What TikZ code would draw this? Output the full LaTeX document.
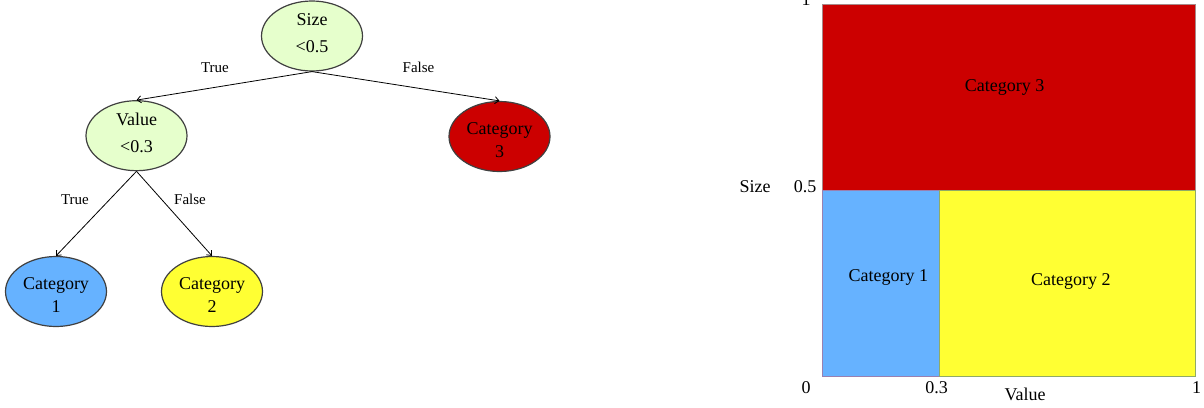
\documentclass[tikz,border=0pt]{standalone}
\usepackage{fontspec}
\setmainfont{Liberation Serif}
\usetikzlibrary{shapes.geometric,arrows.meta}
\definecolor{decfill}{HTML}{E6FFCC}
\definecolor{catred}{HTML}{CC0000}
\definecolor{catblue}{HTML}{66B2FF}
\definecolor{catyellow}{HTML}{FFFF33}
\definecolor{nodeborder}{HTML}{404040}
\definecolor{redborder}{HTML}{A88888}
\definecolor{blueborder}{HTML}{9A80B0}
\definecolor{yellowborder}{HTML}{90AA66}
\tikzset{
  tnode/.style={ellipse, draw=nodeborder, line width=1.2pt, minimum width=101pt,
    minimum height=70pt, inner sep=0pt, align=center},
  dec/.style={tnode, fill=decfill, font=\fontsize{18}{26.5}\selectfont},
  cat/.style={tnode, font=\fontsize{18}{23.5}\selectfont},
  edge/.style={draw=black, line width=0.8pt, -{Straight Barb[length=4pt,width=7pt]}},
  elab/.style={font=\fontsize{15}{18}\selectfont, anchor=base, inner sep=0pt},
  lab/.style={font=\fontsize{18}{22}\selectfont, anchor=base, inner sep=0pt},
  region/.style={line width=0.9pt}
}
\begin{document}
\begin{tikzpicture}[x=1pt,y=-1pt]
\useasboundingbox (0,0) rectangle (1204,407);

% decision tree
\node[dec] (size) at (312,36) {Size\\<0.5\rule[-6pt]{0pt}{6pt}};
\node[dec] (value) at (136.5,135.7) {Value\\<0.3\rule[-6pt]{0pt}{6pt}};
\node[cat, fill=catred] (c3) at (499.5,136.5) {\rule{0pt}{19pt}Category\\3};
\node[cat, fill=catblue] (c1) at (56,291.5) {\rule{0pt}{19pt}Category\\1};
\node[cat, fill=catyellow] (c2) at (212,291.5) {\rule{0pt}{19pt}Category\\2};

\draw[edge] (size.south) -- (value.north);
\draw[edge] (size.south) -- (c3.north);
\draw[edge] (value.south) -- (c1.north);
\draw[edge] (value.south) -- (c2.north);

\node[elab] (t1) at (215,72) {True};
\node[elab] (f1) at (418.5,72) {False};
\node[elab] (t2) at (75,204) {True};
\node[elab] (f2) at (190,204) {False};

% partition plot
\filldraw[region, fill=catred, draw=redborder] (822.5,4) rectangle (1195.5,190);
\filldraw[region, fill=catblue, draw=blueborder] (822.5,190) rectangle (939.5,376.5);
\filldraw[region, fill=catyellow, draw=yellowborder] (939.5,190) rectangle (1195.5,376.5);

\node[lab] (r3) at (1004.7,91.7) {Category 3};
\node[lab] (r1) at (888.3,281.7) {Category 1};
\node[lab] (r2) at (1070.8,285) {Category 2};

\node[lab] (ytop) at (806,5.3) {1};
\node[lab] (ymid) at (805,192.7) {0.5};
\node[lab] (ylab) at (755,192.7) {Size};
\node[lab] (x0) at (806,393.3) {0};
\node[lab] (x03) at (936.7,393.3) {0.3};
\node[lab] (x1) at (1196.7,393.3) {1};
\node[lab] (xlab) at (1025,400) {Value};
\end{tikzpicture}
\end{document}
